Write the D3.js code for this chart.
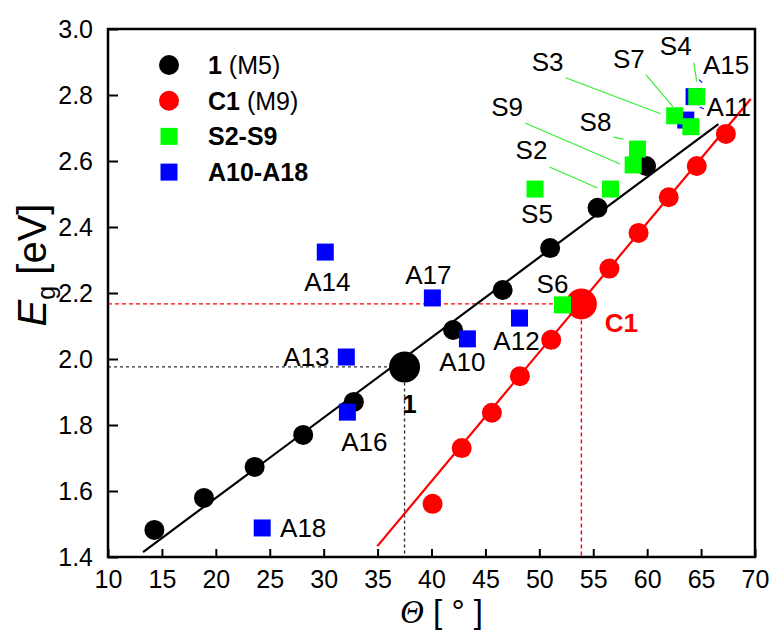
<!DOCTYPE html>
<html>
<head>
<meta charset="utf-8">
<script src="https://cdn.jsdelivr.net/npm/d3@7"></script>
<style>
  html, body { margin: 0; padding: 0; background: #ffffff; }
  svg { display: block; font-family: Arial, "Liberation Sans", sans-serif; }
</style>
</head>
<body>
<svg id="chart" width="772" height="634"></svg>
<script>
// Compound 1 (M5) series
const theta1 = [14.3, 18.9, 23.6, 28.1, 32.8, 42.0, 46.6, 51.0, 55.4, 59.9];
const eg1 = [1.482, 1.579, 1.673, 1.770, 1.870, 2.088, 2.209, 2.336, 2.458, 2.585];
const theta1Ref = 37.5, eg1Ref = 1.976;
const fit1X = [13.25, 66.6];
const fit1Y = [1.415, 2.712];

// Compound C1 (M9) series
const thetaC1 = [40.1, 42.8, 45.6, 48.2, 51.1, 56.5, 59.2, 62.0, 64.6, 67.3];
const egC1 = [1.561, 1.730, 1.837, 1.948, 2.058, 2.274, 2.382, 2.490, 2.585, 2.682];
const thetaC1Ref = 53.9, egC1Ref = 2.167;
const fitC1X = [34.98, 69.6];
const fitC1Y = [1.433, 2.788];

// S2-S9
const sNames = ["S2", "S3", "S4", "S5", "S6", "S7", "S8", "S9"];
const sTheta = [56.6, 62.55, 64.6, 49.6, 52.15, 64.05, 59.1, 58.7];
const sEg = [2.515, 2.737, 2.795, 2.515, 2.164, 2.704, 2.636, 2.588];

// A10-A18
const aNames = ["A10", "A11", "A12", "A13", "A14", "A15", "A16", "A17", "A18"];
const aTheta = [43.33, 63.58, 48.16, 32.1, 30.15, 64.35, 32.2, 40.08, 24.3];
const aEg = [2.061, 2.724, 2.124, 2.006, 2.324, 2.795, 1.839, 2.185, 1.488];

// Axis ticks
const xTicks = [10, 15, 20, 25, 30, 35, 40, 45, 50, 55, 60, 65, 70];
const yTicks = [1.4, 1.6, 1.8, 2.0, 2.2, 2.4, 2.6, 2.8, 3.0];

// Label placement (pixel offsets from each marker) and leader segments
const labelLayout = {
  S2: { d: [-79, -39], lead: [[-61, -22], [-13, -1]] },
  S3: { d: [-127, -54], lead: [[-109, -38], [-14, -2]] },
  S4: { d: [-21, -51], lead: [[-3, -34], [0, -15]] },
  S5: { d: [2, 25] },
  S6: { d: [-10, -21] },
  S7: { d: [-62, -68], lead: [[-45, -52], [-18, -20]] },
  S8: { d: [-42, -27], lead: [[-24, -12], [-14, -10]] },
  S9: { d: [-126, -58], lead: [[-108, -42], [-13, -1]] },
  A10: { d: [-5, 23] },
  A11: { d: [43, -13], lead: [[14, -13], [18, -11]] },
  A12: { d: [-3, 23] },
  A13: { d: [-40, 0] },
  A14: { d: [2, 30] },
  A15: { d: [32, -32], lead: [[5, -17], [8, -14]] },
  A16: { d: [17, 30] },
  A17: { d: [-4, -23] },
  A18: { d: [41, 0] }
};

const svg = d3.select("#chart");
const plotL = 108, plotR = 755, plotT = 29, plotB = 557;
const x = d3.scaleLinear().domain([10, 70]).range([plotL, plotR]);
const y = d3.scaleLinear().domain([1.4, 3.0]).range([plotB, plotT]);

const RED = "#ff0000", GREEN = "#00ff00", BLUE = "#0000ff";

// Clip marks to plot area
svg.append("defs").append("clipPath").attr("id", "plotClip")
  .append("rect").attr("x", plotL).attr("y", plotT)
  .attr("width", plotR - plotL).attr("height", plotB - plotT);

const plot = svg.append("g").attr("clip-path", "url(#plotClip)");

// Guide lines to the reference points
plot.append("path")
  .attr("d", `M${x(10)},${y(eg1Ref)}H${x(theta1Ref)}V${y(1.4)}`)
  .attr("fill", "none").attr("stroke", "#333").attr("stroke-width", 1.4)
  .attr("stroke-dasharray", "3,3");
plot.append("path")
  .attr("d", `M${x(10)},${y(egC1Ref)}H${x(thetaC1Ref)}V${y(1.4)}`)
  .attr("fill", "none").attr("stroke", RED).attr("stroke-width", 1.4)
  .attr("stroke-dasharray", "4,3");

// Fit lines
const line = d3.line().x(d => x(d[0])).y(d => y(d[1]));
plot.append("path").datum(d3.zip(fit1X, fit1Y)).attr("d", line)
  .attr("fill", "none").attr("stroke", "#000").attr("stroke-width", 2.2);
plot.append("path").datum(d3.zip(fitC1X, fitC1Y)).attr("d", line)
  .attr("fill", "none").attr("stroke", RED).attr("stroke-width", 2.2);

// Circles
plot.selectAll("circle.s1").data(d3.zip(theta1, eg1)).join("circle")
  .attr("cx", d => x(d[0])).attr("cy", d => y(d[1])).attr("r", 10).attr("fill", "#000");
plot.append("circle").attr("cx", x(theta1Ref)).attr("cy", y(eg1Ref)).attr("r", 15.5).attr("fill", "#000");
plot.selectAll("circle.c1").data(d3.zip(thetaC1, egC1)).join("circle")
  .attr("cx", d => x(d[0])).attr("cy", d => y(d[1])).attr("r", 10).attr("fill", RED);
plot.append("circle").attr("cx", x(thetaC1Ref)).attr("cy", y(egC1Ref)).attr("r", 15.5).attr("fill", RED);

// Squares
const SQ = 17;
const aData = aNames.map((n, i) => ({ name: n, t: aTheta[i], e: aEg[i] }));
const sData = sNames.map((n, i) => ({ name: n, t: sTheta[i], e: sEg[i] }));
plot.selectAll("rect.a").data(aData).join("rect")
  .attr("x", d => x(d.t) - SQ / 2).attr("y", d => y(d.e) - SQ / 2)
  .attr("width", SQ).attr("height", SQ).attr("fill", BLUE);
plot.selectAll("rect.s").data(sData).join("rect")
  .attr("x", d => x(d.t) - SQ / 2).attr("y", d => y(d.e) - SQ / 2)
  .attr("width", SQ).attr("height", SQ).attr("fill", GREEN);

// Leaders and point labels
const labels = svg.append("g").attr("font-size", 26);
function addLabels(data, leadColor) {
  data.forEach(d => {
    const L = labelLayout[d.name];
    const px = x(d.t), py = y(d.e);
    if (L.lead) {
      labels.append("line")
        .attr("x1", px + L.lead[0][0]).attr("y1", py + L.lead[0][1])
        .attr("x2", px + L.lead[1][0]).attr("y2", py + L.lead[1][1])
        .attr("stroke", leadColor).attr("stroke-width", 1.2);
    }
    labels.append("text").attr("x", px + L.d[0]).attr("y", py + L.d[1])
      .attr("text-anchor", "middle").attr("dominant-baseline", "central")
      .attr("fill", "#000").text(d.name);
  });
}
addLabels(sData, "#33ee33");
addLabels(aData, BLUE);

labels.append("text").attr("x", x(theta1Ref) + 5).attr("y", y(eg1Ref) + 37)
  .attr("text-anchor", "middle").attr("dominant-baseline", "central")
  .attr("font-weight", "bold").attr("fill", "#000").text("1");
labels.append("text").attr("x", x(thetaC1Ref) + 40).attr("y", y(egC1Ref) + 19)
  .attr("text-anchor", "middle").attr("dominant-baseline", "central")
  .attr("font-weight", "bold").attr("fill", RED).text("C1");

// Axes
const xMinor = d3.range(12.5, 70, 5);
const yMinor = d3.range(1.5, 3.0, 0.2);

const gx = svg.append("g").attr("transform", `translate(0,${plotB})`);
gx.call(d3.axisBottom(x).tickValues(xMinor).tickSize(-4).tickFormat(""));
gx.call(d3.axisBottom(x).tickValues(xTicks).tickSize(-8).tickPadding(13).tickFormat(d3.format("d")));

const gy = svg.append("g").attr("transform", `translate(${plotL},0)`);
gy.call(d3.axisLeft(y).tickValues(yMinor).tickSize(-5).tickFormat(""));
gy.call(d3.axisLeft(y).tickValues(yTicks).tickSize(-10).tickPadding(15).tickFormat(d3.format(".1f")));

svg.selectAll(".domain").remove();
svg.selectAll(".tick line").attr("stroke", "#000").attr("stroke-width", 2);
svg.selectAll(".tick text").attr("font-size", 25).attr("fill", "#000")
  .attr("font-family", "Arial, 'Liberation Sans', sans-serif");

// Frame
svg.append("rect").attr("x", plotL).attr("y", plotT)
  .attr("width", plotR - plotL).attr("height", plotB - plotT)
  .attr("fill", "none").attr("stroke", "#000").attr("stroke-width", 2.5);

// Axis titles
const xt = svg.append("text").attr("x", (plotL + plotR) / 2 + 10).attr("y", 623)
  .attr("text-anchor", "middle").attr("font-size", 33).attr("fill", "#000")
  .attr("xml:space", "preserve");
xt.append("tspan").attr("font-style", "italic").attr("font-family", "'Liberation Serif', serif").text("Θ");
xt.append("tspan").text(" [ ° ]");

const yt = svg.append("text").attr("transform", "translate(46,265) rotate(-90)")
  .attr("text-anchor", "middle").attr("font-size", 40).attr("fill", "#000");
yt.append("tspan").attr("font-style", "italic").text("E");
yt.append("tspan").attr("font-size", 25).attr("dy", 9).text("g");
yt.append("tspan").attr("dy", -9).text(" [eV]");

// Legend
const legendItems = [
  { bold: "1", rest: " (M5)", color: "#000", shape: "circle" },
  { bold: "C1", rest: " (M9)", color: RED, shape: "circle" },
  { bold: "S2-S9", rest: "", color: GREEN, shape: "square" },
  { bold: "A10-A18", rest: "", color: BLUE, shape: "square" }
];
const lg = svg.append("g");
legendItems.forEach((it, i) => {
  const cy = 65 + i * 35.7;
  if (it.shape === "circle") {
    lg.append("circle").attr("cx", 169).attr("cy", cy).attr("r", 10).attr("fill", it.color);
  } else {
    lg.append("rect").attr("x", 169 - SQ / 2).attr("y", cy - SQ / 2)
      .attr("width", SQ).attr("height", SQ).attr("fill", it.color);
  }
  const t = lg.append("text").attr("x", 208).attr("y", cy)
    .attr("dominant-baseline", "central").attr("font-size", 25).attr("fill", "#000");
  t.append("tspan").attr("font-weight", "bold").text(it.bold);
  if (it.rest) t.append("tspan").text(it.rest);
});
</script>
</body>
</html>
